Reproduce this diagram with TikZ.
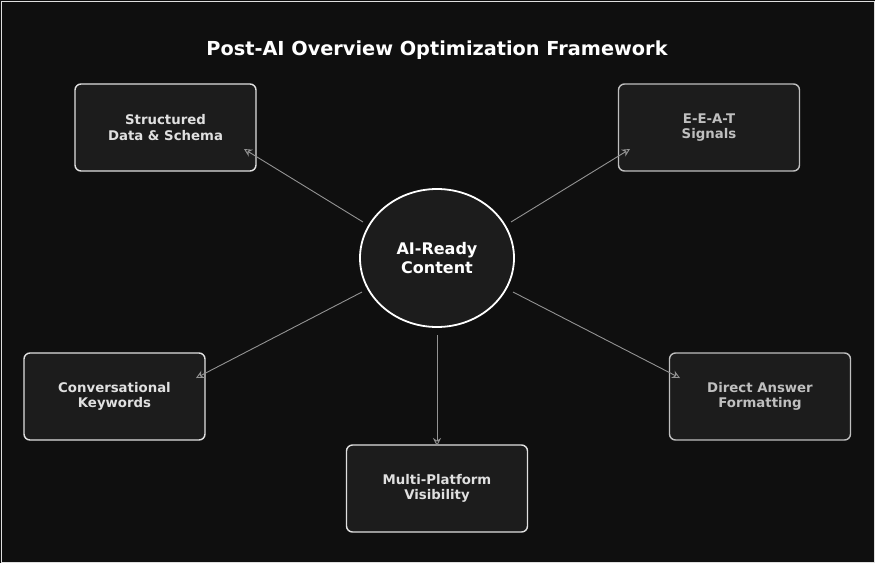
\documentclass[tikz,border=0pt]{standalone}
\usepackage{fontspec}
\setmainfont{DejaVu Sans}
\usetikzlibrary{shapes.geometric,arrows.meta}
\definecolor{bg}{HTML}{0F0F0F}
\definecolor{boxfill}{HTML}{1C1C1C}
\begin{document}
\begin{tikzpicture}[x=1pt,y=-1pt,
  box/.style={draw=#1,line width=1.4pt,fill=boxfill,rounded corners=6pt,minimum width=181pt,minimum height=87pt,align=center,text=#1,font=\bfseries\fontsize{13.3}{15.5}\selectfont},
  box/.default={white!88!black},
  arr/.style={draw=gray!85,line width=0.9pt,-{Stealth[open,length=8pt,width=8pt]}}]
\fill[bg] (0,0) rectangle (875,563);
\draw[gray!25,line width=0.6pt] (1,1) rectangle (874,562);
\useasboundingbox (0,0) rectangle (875,563);
\node[text=white,font=\bfseries\fontsize{19.3}{22}\selectfont] (title) at (437,50) {Post-AI Overview Optimization Framework};
\node[ellipse,draw=white,line width=1.8pt,fill=boxfill,minimum width=154pt,minimum height=138pt,align=center,text=white,font=\bfseries\fontsize{16}{18.5}\selectfont] (c) at (437,258) {AI-Ready\\Content};
\node[box] (sd) at (165.5,127.5) {Structured\\Data \& Schema};
\node[box=white!75!black] (ee) at (709,127.5) {E-E-A-T\\Signals};
\node[box] (ck) at (114.5,396.5) {Conversational\\Keywords};
\node[box=white!75!black] (da) at (760,396.5) {Direct Answer\\Formatting};
\node[box] (mp) at (437,488.5) {Multi-Platform\\Visibility};
\coordinate (a1) at (363,222); \coordinate (b1) at (244,149);
\coordinate (a2) at (511,222); \coordinate (b2) at (630,149);
\coordinate (a3) at (362,292); \coordinate (b3) at (196,378);
\coordinate (a4) at (513,292); \coordinate (b4) at (680,378);
\coordinate (a5) at (437,335); \coordinate (b5) at (437,446);
\draw[arr] (a1) -- (b1);
\draw[arr] (a2) -- (b2);
\draw[arr] (a3) -- (b3);
\draw[arr] (a4) -- (b4);
\draw[arr] (a5) -- (b5);
\end{tikzpicture}
\end{document}
